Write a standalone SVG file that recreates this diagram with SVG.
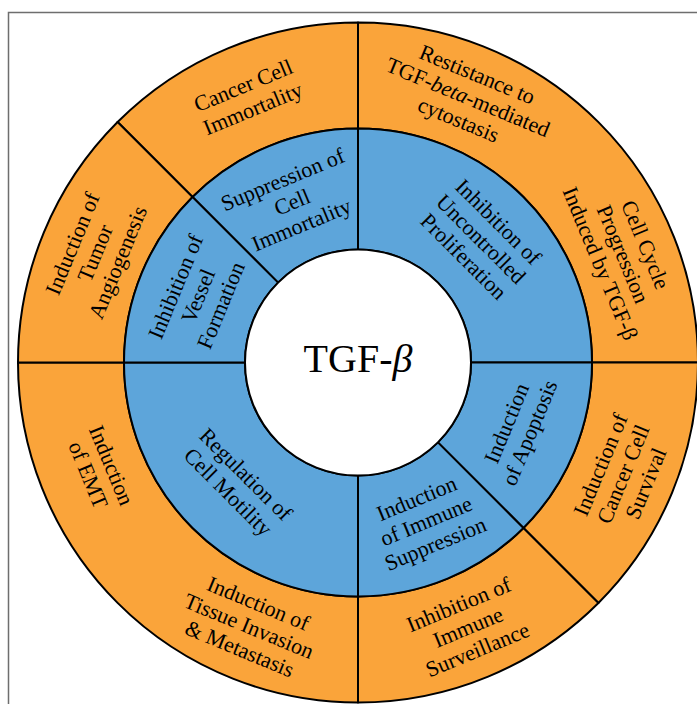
<svg xmlns="http://www.w3.org/2000/svg" width="697" height="704" viewBox="0 0 697 704">
<style>
.outer{fill:#FAA43A;stroke:#000;stroke-width:2;stroke-linejoin:round}
.inner{fill:#5DA5DA;stroke:#000;stroke-width:2;stroke-linejoin:round}
.core{fill:#fff;stroke:#000;stroke-width:2}
.lbl{font-family:"Liberation Serif","Times New Roman",serif;font-size:22px;fill:#000;text-anchor:middle}
.title{font-family:"Liberation Serif","Times New Roman",serif;font-size:40px;fill:#000;text-anchor:middle}
</style>
<rect width="697" height="704" fill="#fff"/>
<rect x="8.5" y="12.5" width="800" height="800" fill="none" stroke="#6e6e6e" stroke-width="1.5"/>

<g id="node-cancer-cell-immortality">
<path class="outer" d="M117.58,122.08 A340,340 0 0 1 358,22.5 L358,128.5 A234,234 0 0 0 192.54,197.04 Z"/>
<text class="lbl" transform="translate(248,97) rotate(-22.5)"><tspan x="0" y="-5">Cancer Cell</tspan><tspan x="0" y="20">Immortality</tspan></text>
</g>
<g id="node-resistance-cytostasis">
<path class="outer" d="M358,22.5 A340,340 0 0 1 698,362.5 L592,362.5 A234,234 0 0 0 358,128.5 Z"/>
<text class="lbl" transform="translate(468,97) rotate(22.5)"><tspan x="0" y="-17">Restistance to</tspan><tspan x="0" y="7.5">TGF-<tspan font-style="italic">beta</tspan>-mediated</tspan><tspan x="0" y="32">cytostasis</tspan></text>
<text class="lbl" transform="translate(623,254) rotate(67.5)"><tspan x="0" y="-17">Cell Cycle</tspan><tspan x="0" y="7.5">Progression</tspan><tspan x="0" y="32">Induced by TGF-β</tspan></text>
</g>
<g id="node-cancer-cell-survival">
<path class="outer" d="M698,362.5 A340,340 0 0 1 598.42,602.92 L523.46,527.96 A234,234 0 0 0 592,362.5 Z"/>
<text class="lbl" transform="translate(623,474) rotate(-67.5)"><tspan x="0" y="-17">Induction of</tspan><tspan x="0" y="7.5">Cancer Cell</tspan><tspan x="0" y="32">Survival</tspan></text>
</g>
<g id="node-immune-surveillance">
<path class="outer" d="M598.42,602.92 A340,340 0 0 1 358,702.5 L358,596.5 A234,234 0 0 0 523.46,527.96 Z"/>
<text class="lbl" transform="translate(468,627) rotate(-22.5)"><tspan x="0" y="-17">Inhibition of</tspan><tspan x="0" y="7.5">Immune</tspan><tspan x="0" y="32">Surveillance</tspan></text>
</g>
<g id="node-emt-invasion">
<path class="outer" d="M358,702.5 A340,340 0 0 1 18,362.5 L124,362.5 A234,234 0 0 0 358,596.5 Z"/>
<text class="lbl" transform="translate(100,470) rotate(67.5)"><tspan x="0" y="-5">Induction</tspan><tspan x="0" y="20">of EMT</tspan></text>
<text class="lbl" transform="translate(249,626) rotate(22.5)"><tspan x="0" y="-17">Induction of</tspan><tspan x="0" y="7.5">Tissue Invasion</tspan><tspan x="0" y="32">&amp; Metastasis</tspan></text>
</g>
<g id="node-tumor-angiogenesis">
<path class="outer" d="M18,362.5 A340,340 0 0 1 117.58,122.08 L192.54,197.04 A234,234 0 0 0 124,362.5 Z"/>
<text class="lbl" transform="translate(95,253) rotate(-67.5)"><tspan x="0" y="-17">Induction of</tspan><tspan x="0" y="7.5">Tumor</tspan><tspan x="0" y="32">Angiogenesis</tspan></text>
</g>

<g id="node-suppression-immortality">
<path class="inner" d="M192.54,197.04 A234,234 0 0 1 358,128.5 L358,249.5 A113,113 0 0 0 278.10,282.60 Z"/>
<text class="lbl" transform="translate(292,202) rotate(-22.5)"><tspan x="0" y="-17">Suppression of</tspan><tspan x="0" y="7.5">Cell</tspan><tspan x="0" y="32">Immortality</tspan></text>
</g>
<g id="node-uncontrolled-proliferation">
<path class="inner" d="M358,128.5 A234,234 0 0 1 592,362.5 L471,362.5 A113,113 0 0 0 358,249.5 Z"/>
<text class="lbl" transform="translate(481,239) rotate(45)"><tspan x="0" y="-17">Inhibition of</tspan><tspan x="0" y="7.5">Uncontrolled</tspan><tspan x="0" y="32">Proliferation</tspan></text>
</g>
<g id="node-apoptosis">
<path class="inner" d="M592,362.5 A234,234 0 0 1 523.46,527.96 L437.90,442.40 A113,113 0 0 0 471,362.5 Z"/>
<text class="lbl" transform="translate(518,428) rotate(-67.5)"><tspan x="0" y="-5">Induction</tspan><tspan x="0" y="20">of Apoptosis</tspan></text>
</g>
<g id="node-immune-suppression">
<path class="inner" d="M523.46,527.96 A234,234 0 0 1 358,596.5 L358,475.5 A113,113 0 0 0 437.90,442.40 Z"/>
<text class="lbl" transform="translate(426,521) rotate(-22.5)"><tspan x="0" y="-17">Induction</tspan><tspan x="0" y="7.5">of Immune</tspan><tspan x="0" y="32">Suppression</tspan></text>
</g>
<g id="node-cell-motility">
<path class="inner" d="M358,596.5 A234,234 0 0 1 124,362.5 L245,362.5 A113,113 0 0 0 358,475.5 Z"/>
<text class="lbl" transform="translate(237,483) rotate(45)"><tspan x="0" y="-5">Regulation of</tspan><tspan x="0" y="20">Cell Motility</tspan></text>
</g>
<g id="node-vessel-formation">
<path class="inner" d="M124,362.5 A234,234 0 0 1 192.54,197.04 L278.10,282.60 A113,113 0 0 0 245,362.5 Z"/>
<text class="lbl" transform="translate(198,296) rotate(-67.5)"><tspan x="0" y="-17">Inhibition of</tspan><tspan x="0" y="7.5">Vessel</tspan><tspan x="0" y="32">Formation</tspan></text>
</g>

<g id="node-tgf-beta">
<circle class="core" cx="358" cy="362.5" r="113"/>
<text class="title" x="358" y="372">TGF-<tspan font-style="italic">β</tspan></text>
</g>
</svg>
